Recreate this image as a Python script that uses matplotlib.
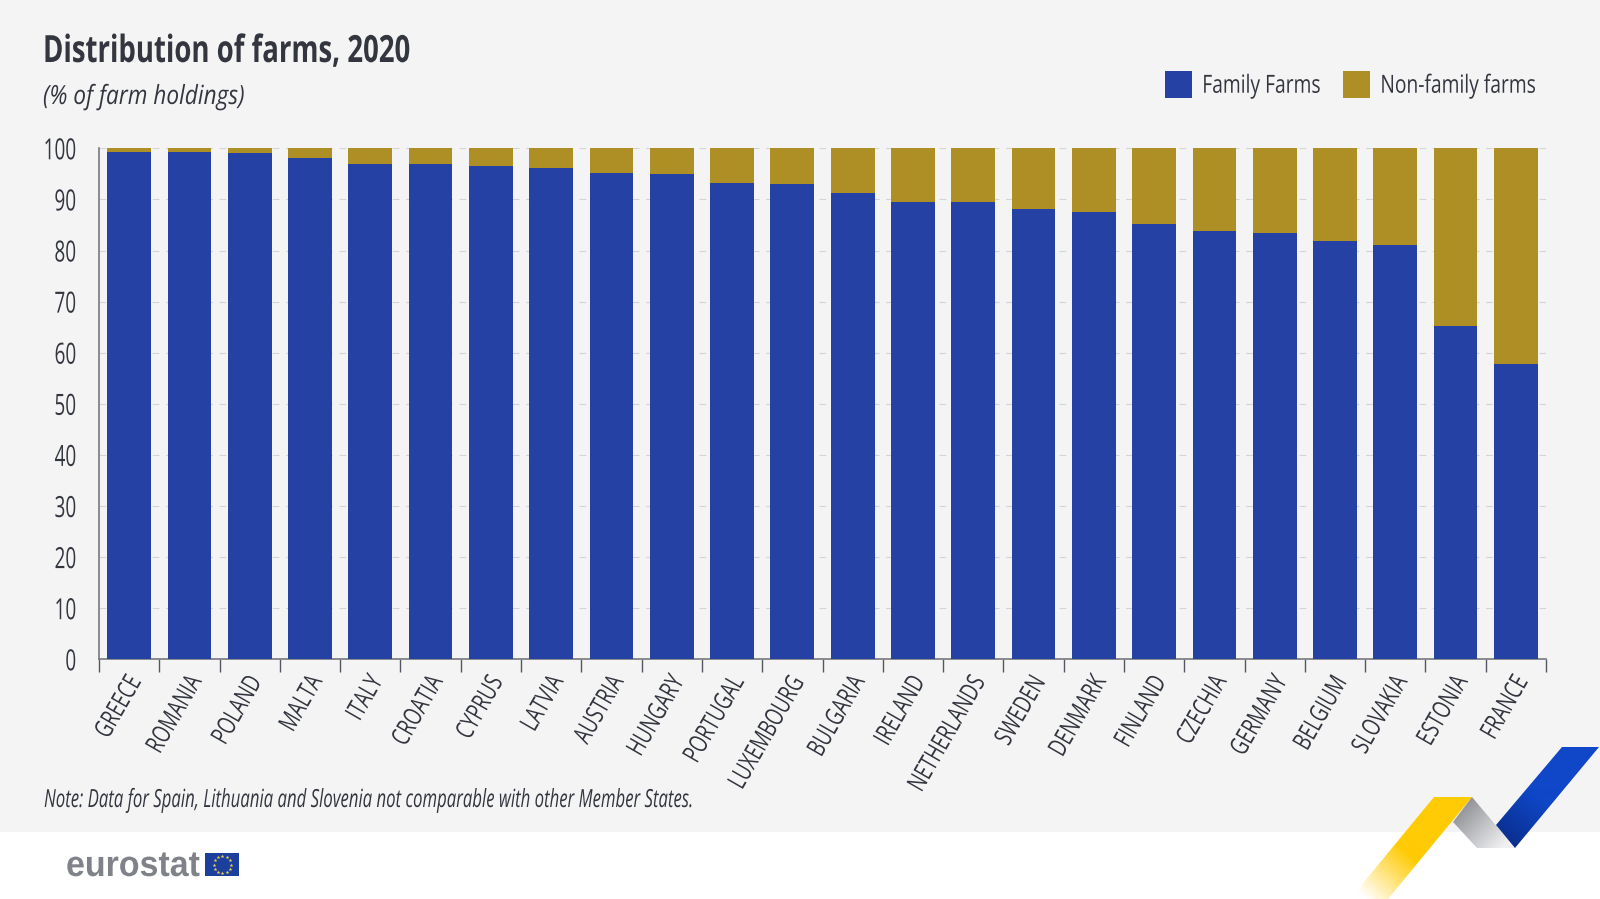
import numpy as np
import matplotlib
matplotlib.use('Agg')
import matplotlib.pyplot as plt
from matplotlib.colors import LinearSegmentedColormap
from matplotlib.patches import Polygon, Rectangle
from matplotlib.patheffects import AbstractPathEffect
from matplotlib.transforms import Affine2D, ScaledTranslation

countries = ['GREECE', 'ROMANIA', 'POLAND', 'MALTA', 'ITALY', 'CROATIA', 'CYPRUS', 'LATVIA',
             'AUSTRIA', 'HUNGARY', 'PORTUGAL', 'LUXEMBOURG', 'BULGARIA', 'IRELAND', 'NETHERLANDS',
             'SWEDEN', 'DENMARK', 'FINLAND', 'CZECHIA', 'GERMANY', 'BELGIUM', 'SLOVAKIA', 'ESTONIA', 'FRANCE']
family = [99.3, 99.2, 99.0, 98.1, 97.0, 96.9, 96.6, 96.2, 95.2, 95.0, 93.3, 93.0,
          91.3, 89.5, 89.5, 88.1, 87.6, 85.2, 83.8, 83.5, 81.9, 81.1, 65.3, 57.7]
non_family = [0.7, 0.8, 1.0, 1.9, 3.0, 3.1, 3.4, 3.8, 4.8, 5.0, 6.7, 7.0,
              8.7, 10.5, 10.5, 11.9, 12.4, 14.8, 16.2, 16.5, 18.1, 18.9, 34.7, 42.3]
yticks = [0, 10, 20, 30, 40, 50, 60, 70, 80, 90, 100]

W, H = 1600, 899
BLUE = '#2541a3'
GOLD = '#ae8f26'
INK = '#33363f'
plt.rcParams['font.family'] = ['Open Sans', 'DejaVu Sans']


class Condense(AbstractPathEffect):
    # no condensed font installed, so squeeze the glyphs along the text direction
    def __init__(self, sx, anchor='left'):
        super().__init__()
        self.sx = sx
        self.anchor = anchor

    def draw_path(self, renderer, gc, tpath, affine, rgbFace=None):
        w = tpath.get_extents().x1 if self.anchor == 'right' else 0
        squeeze = Affine2D().translate(-w, 0).scale(self.sx, 1).translate(w, 0)
        renderer.draw_path(gc, tpath, squeeze + affine, rgbFace)


fig = plt.figure(figsize=(W / 100, H / 100), dpi=100, facecolor='white')

# pixel-space layer for background, logo and ribbon
bg = fig.add_axes([0, 0, 1, 1], zorder=0)
bg.add_patch(Rectangle((0, 0), W, 832, color='#f4f4f4', lw=0, zorder=-1))


def ribbon(points, colors, start, end):
    # linear gradient clipped to a polygon, start/end in pixels
    poly = Polygon(points, closed=True, fc='none', ec='none')
    bg.add_patch(poly)
    xs, ys = np.meshgrid(np.arange(0, W, 2), np.arange(0, H, 2))
    d = np.array(end, float) - np.array(start, float)
    t = ((xs - start[0]) * d[0] + (ys - start[1]) * d[1]) / (d @ d)
    t = np.clip(t, 0, 1)
    cmap = LinearSegmentedColormap.from_list('r', colors)
    im = bg.imshow(t, cmap=cmap, extent=(0, W, H, 0), aspect='auto', vmin=0, vmax=1, interpolation='bilinear')
    im.set_clip_path(poly)


ribbon([(1434, 797), (1472, 797), (1388, 899), (1350, 899)],
       ['#ffcb05', '#ffcb05', '#ffffff'], (1450, 810), (1365, 899))
ribbon([(1472, 797), (1453, 822), (1477, 848), (1515, 848)],
       ['#8f9196', '#f0f0f2'], (1458, 808), (1500, 848))
ribbon([(1562, 747), (1599, 747), (1515, 848), (1496, 825)],
       ['#0f47c8', '#0f47c8', '#0a2d8c'], (1575, 750), (1505, 845))
bg.set_xlim(0, W)
bg.set_ylim(H, 0)
bg.axis('off')

# eurostat logo
bg.text(66, 876, 'eurostat', fontsize=26, fontweight='bold', color='#7f8288',
        family=['Liberation Sans', 'DejaVu Sans'], va='baseline', ha='left',
        path_effects=[Condense(0.94)])
bg.add_patch(Rectangle((205, 853.3), 34.3, 22.7, fc='#1c3f9e', ec='none'))
star_angles = np.linspace(0, 2 * np.pi, 12, endpoint=False)
bg.scatter(222.3 + 8.5 * np.cos(star_angles), 864.5 + 8.5 * np.sin(star_angles),
           s=8, c='#f4d84a', marker='*', linewidths=0)

# chart
ax = fig.add_axes([99 / W, 1 - 659.3 / H, (1546 - 99) / W, (659.3 - 148.3) / H], zorder=1)
ax.patch.set_alpha(0)
x = np.arange(len(countries))
ax.bar(x, family, width=0.725, color=BLUE, label='Family Farms', zorder=3)
ax.bar(x, non_family, width=0.725, bottom=family, color=GOLD, label='Non-family farms', zorder=3)
ax.set_xlim(-0.5, len(countries) - 0.5)
ax.set_ylim(0, 100)
ax.set_yticks(yticks)
ax.tick_params(axis='y', length=0, pad=16, labelsize=21, labelcolor=INK)
for lab in ax.get_yticklabels():
    lab.set_path_effects([Condense(0.65, 'right')])
ax.set_xticks(np.arange(-0.5, len(countries)))
ax.set_xticklabels([])
ax.tick_params(axis='x', which='major', length=9, width=1, color='#55585f')
ax.set_xticks(x, minor=True)
ax.set_xticklabels(countries, minor=True, rotation=60, ha='right', va='top',
                   rotation_mode='anchor', fontsize=18.5, color=INK)
ax.tick_params(axis='x', which='minor', length=0, pad=0)
offset = ScaledTranslation(-3.5 / 100, -12 / 100, fig.dpi_scale_trans)
for lab in ax.get_xticklabels(minor=True):
    lab.set_transform(lab.get_transform() + offset)
    lab.set_path_effects([Condense(0.72, 'right')])
ax.grid(axis='y', color='#d4d4d4', lw=0.8, ls=(0, (6, 6)), zorder=0)
ax.set_axisbelow(True)
for side in ['top', 'right']:
    ax.spines[side].set_visible(False)
for side in ['left', 'bottom']:
    ax.spines[side].set_color('#77797e')
    ax.spines[side].set_linewidth(1.2)

leg = ax.legend(loc='lower left', bbox_to_anchor=(0.7367, 1.097), ncols=2, frameon=False, fontsize=18,
                handlelength=1.08, handleheight=1.28, handletextpad=0.41, columnspacing=-0.52,
                borderaxespad=0, borderpad=0, labelcolor=INK)
for t in leg.get_texts():
    t.set_path_effects([Condense(0.77)])

# titles
fig.text(43 / W, 1 - 62 / H, 'Distribution of farms, 2020', fontsize=27, fontweight='bold', color=INK,
         path_effects=[Condense(0.735)])
fig.text(43 / W, 1 - 104 / H, '(% of farm holdings)', fontsize=19, style='italic', color=INK,
         path_effects=[Condense(0.857)])
fig.text(44 / W, 1 - 807 / H, 'Note: Data for Spain, Lithuania and Slovenia not comparable with other Member States.',
         fontsize=18, style='italic', color=INK, path_effects=[Condense(0.67)])

fig.savefig('out.png', dpi=100, facecolor=fig.get_facecolor())
